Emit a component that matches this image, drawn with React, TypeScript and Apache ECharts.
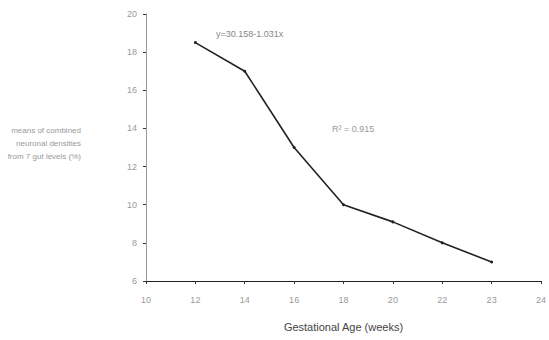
import React, { useEffect, useRef } from "react";
import * as echarts from "echarts";

const xLabels = ["10", "12", "14", "16", "18", "20", "22", "23", "24"];
const yValues: (number | null)[] = [null, 18.5, 17, 13, 10, 9.1, 8, 7, null];
const yTicks = [6, 8, 10, 12, 14, 16, 18, 20];
const equationText = "y=30.158-1.031x";
const r2Text = "R² = 0.915";
const yTitleLines = ["means of combined", "neuronal densities", "from 7 gut levels (%)"];
const xTitle = "Gestational Age (weeks)";

export default function App() {
  const ref = useRef<HTMLDivElement>(null);
  useEffect(() => {
    if (!ref.current) return;
    const chart = echarts.init(ref.current, undefined, { renderer: "svg" });
    chart.setOption({
      animation: false,
      backgroundColor: "#ffffff",
      grid: { left: 146, right: 6, top: 14, bottom: 59 },
      xAxis: {
        type: "category",
        data: xLabels,
        boundaryGap: false,
        axisLine: { lineStyle: { color: "#222", width: 1.2 } },
        axisTick: { show: true, length: 3, lineStyle: { color: "#333" } },
        axisLabel: { color: "#999", fontSize: 9, margin: 14, fontFamily: "Liberation Sans" },
        name: xTitle,
        nameLocation: "middle",
        nameGap: 40,
        nameTextStyle: { color: "#444", fontSize: 11, fontFamily: "Liberation Sans" },
      },
      yAxis: {
        type: "value",
        min: yTicks[0],
        max: yTicks[yTicks.length - 1],
        interval: 2,
        axisLine: { show: true, lineStyle: { color: "#999", width: 1 } },
        axisTick: { show: true, length: 3, lineStyle: { color: "#333" } },
        splitLine: { show: false },
        axisLabel: { color: "#999", fontSize: 9, margin: 9, fontFamily: "Liberation Sans" },
      },
      graphic: [
        {
          type: "text",
          x: 81,
          y: 124,
          style: {
            text: yTitleLines.join("\n"),
            fill: "#999",
            fontSize: 8,
            lineHeight: 13,
            align: "right",
            fontFamily: "Liberation Sans",
          },
        },
        {
          type: "text",
          left: 216,
          top: 29,
          style: { text: equationText, fill: "#888", fontSize: 9, fontFamily: "Liberation Sans" },
        },
        {
          type: "text",
          left: 332,
          top: 124,
          style: { text: r2Text, fill: "#999", fontSize: 9, fontFamily: "Liberation Sans" },
        },
      ],
      series: [
        {
          type: "line",
          data: yValues,
          symbol: "circle",
          symbolSize: 3,
          showSymbol: true,
          itemStyle: { color: "#222" },
          lineStyle: { color: "#222", width: 1.6 },
          connectNulls: false,
        },
      ],
    });
    return () => chart.dispose();
  }, []);
  return <div ref={ref} style={{ width: 549, height: 340, position: "absolute", left: 0, top: 0 }} />;
}
